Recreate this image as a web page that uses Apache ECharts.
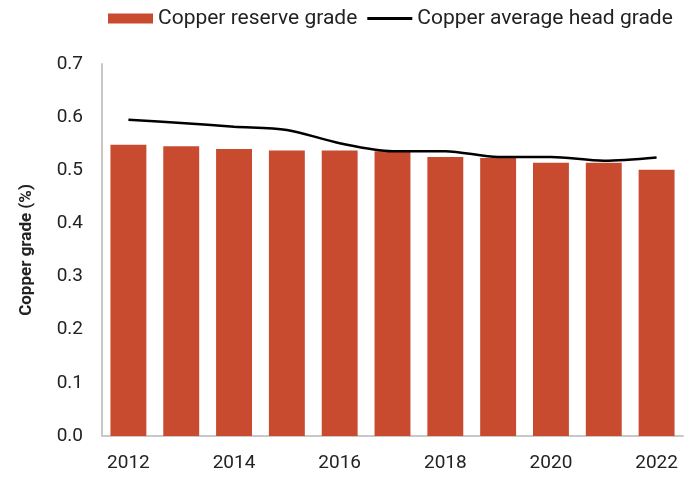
<!DOCTYPE html>
<html>
<head>
<meta charset="utf-8">
<script src="https://cdn.jsdelivr.net/npm/echarts@6/dist/echarts.min.js"></script>
<style>html,body{margin:0;padding:0;background:#fff;}#c{width:699px;height:484px;}</style>
</head>
<body>
<div id="c"></div>
<script>
const years = ['2012','2013','2014','2015','2016','2017','2018','2019','2020','2021','2022'];
const reserveGrade = [0.548, 0.545, 0.540, 0.537, 0.537, 0.536, 0.525, 0.523, 0.514, 0.514, 0.501];
const headGrade = [0.595, 0.589, 0.582, 0.576, 0.551, 0.536, 0.536, 0.525, 0.525, 0.518, 0.524];
const seriesNames = ['Copper reserve grade', 'Copper average head grade'];
const yAxisName = 'Copper grade (%)';

const font = 'Roboto, "Liberation Sans", sans-serif';
const chart = echarts.init(document.getElementById('c'), null, {renderer: 'canvas'});
chart.setOption({
  animation: false,
  backgroundColor: '#ffffff',
  legend: {
    left: 103, top: 3,
    itemGap: 10,
    itemWidth: 45, itemHeight: 10,
    textStyle: {fontFamily: font, fontSize: 21, color: '#222'},
    data: [
      {name: seriesNames[0], icon: 'rect'},
      {name: seriesNames[1], icon: 'path://M0,0H47V3H0Z', itemStyle: {color: '#000'}}
    ]
  },
  grid: {left: 102, right: 16, top: 64, bottom: 48, containLabel: false},
  xAxis: {
    type: 'category',
    data: years,
    axisLine: {lineStyle: {color: '#c8c8c8', width: 2}},
    axisTick: {show: false},
    axisLabel: {interval: 1, fontFamily: font, fontSize: 19, color: '#222', margin: 18}
  },
  yAxis: {
    type: 'value',
    min: 0, max: 0.7, interval: 0.1,
    name: yAxisName,
    nameLocation: 'middle',
    nameGap: 67,
    nameTextStyle: {fontFamily: font, fontSize: 17, fontWeight: 'bold', color: '#222'},
    axisLine: {show: true, lineStyle: {color: '#c8c8c8', width: 2}},
    axisTick: {show: false},
    splitLine: {show: false},
    axisLabel: {fontFamily: font, fontSize: 19, color: '#222', margin: 19,
      formatter: v => v.toFixed(1)}
  },
  series: [
    {
      name: seriesNames[0],
      type: 'bar',
      data: reserveGrade,
      barCategoryGap: '32%',
      itemStyle: {color: '#c84b30'}
    },
    {
      name: seriesNames[1],
      type: 'line',
      data: headGrade,
      smooth: 0.3,
      symbol: 'none',
      lineStyle: {color: '#000', width: 2.5},
      itemStyle: {color: '#000'}
    }
  ]
});
</script>
</body>
</html>
